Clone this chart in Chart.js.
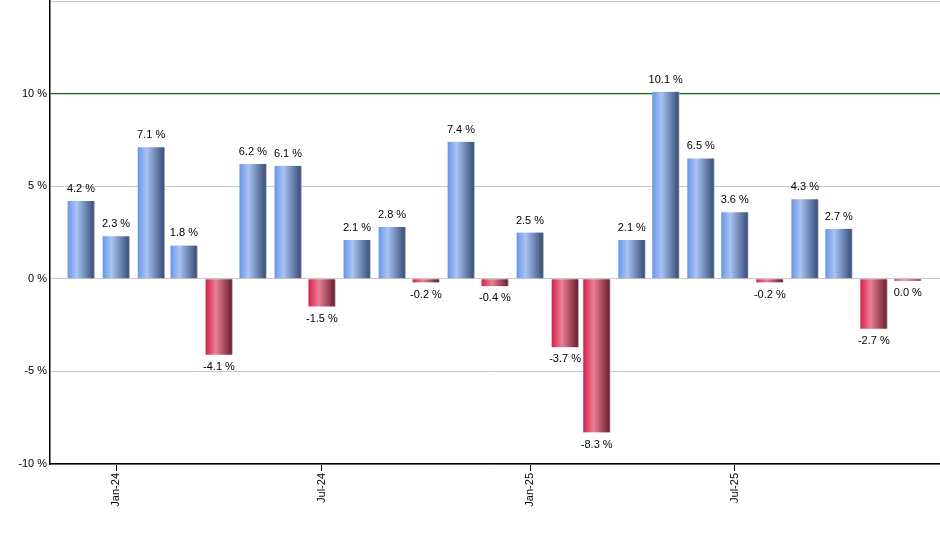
<!DOCTYPE html>
<html>

<head>
    <title>Monthly returns</title>
    <script src="https://cdn.jsdelivr.net/npm/chart.js@4.4.1/dist/chart.umd.min.js"></script>
    <style>
        body { margin: 0; background: #fff; }
        #wrap { width: 940px; height: 550px; position: relative; }
    </style>
</head>

<body>
    <div id="wrap"><canvas id="myChart"></canvas></div>
    <script>

        // months Dec-23 .. Dec-25
        var months = ['2023-12', '2024-01', '2024-02', '2024-03', '2024-04', '2024-05', '2024-06',
            '2024-07', '2024-08', '2024-09', '2024-10', '2024-11', '2024-12', '2025-01', '2025-02',
            '2025-03', '2025-04', '2025-05', '2025-06', '2025-07', '2025-08', '2025-09', '2025-10',
            '2025-11', '2025-12'];
        var returns = [4.2, 2.3, 7.1, 1.8, -4.1, 6.2, 6.1, -1.5, 2.1, 2.8, -0.2, 7.4, -0.4, 2.5, -3.7,
            -8.3, 2.1, 10.1, 6.5, 3.6, -0.2, 4.3, 2.7, -2.7, -0.04];
        var tickMonths = ['2024-01', '2024-07', '2025-01', '2025-07'];
        var tickLabels = ['Jan-24', 'Jul-24', 'Jan-25', 'Jul-25'];
        var yTicks = [-10, -5, 0, 5, 10, 15];

        function dayNum(m) {
            var p = m.split('-');
            return Date.UTC(+p[0], +p[1] - 1, 1) / 86400000;
        }

        var points = [];
        for (var i = 0; i < months.length; i++) {
            points.push({ x: dayNum(months[i]), y: returns[i] });
        }
        var tickDays = tickMonths.map(dayNum);

        function barFill(context) {
            var chart = context.chart;
            var v = context.raw ? context.raw.y : 0;
            if (!chart.chartArea || !chart.scales.x) return v < 0 ? '#c8405e' : '#7c9fe0';
            var cx = chart.scales.x.getPixelForValue(context.raw.x);
            var g = chart.ctx.createLinearGradient(cx - 13, 0, cx + 13, 0);
            if (v < 0) {
                g.addColorStop(0, '#d8244d');
                g.addColorStop(0.38, '#ea8096');
                g.addColorStop(1, '#6a1d2e');
            } else {
                g.addColorStop(0, '#6b98ea');
                g.addColorStop(0.33, '#aac4f4');
                g.addColorStop(1, '#384d78');
            }
            return g;
        }

        var valueLabels = {
            id: 'valueLabels',
            afterDatasetsDraw: function (chart) {
                var ctx = chart.ctx;
                var meta = chart.getDatasetMeta(0);
                ctx.save();
                ctx.font = '11px "Liberation Sans", Arial, sans-serif';
                ctx.fillStyle = '#000';
                ctx.textAlign = 'center';
                ctx.textBaseline = 'middle';
                meta.data.forEach(function (bar, i) {
                    var v = returns[i];
                    var txt = (Math.abs(v) < 0.05 ? '0.0' : v.toFixed(1)) + ' %';
                    var y = v >= 0 ? bar.y - 12 : bar.y + 12;
                    ctx.fillText(txt, bar.x, y);
                });
                ctx.restore();
            }
        };

        var ctx = document.getElementById('myChart').getContext('2d');
        var chart = new Chart(ctx, {
            type: 'bar',
            data: {
                datasets: [{
                    data: points,
                    backgroundColor: barFill,
                    borderColor: '#9a9a9a',
                    borderWidth: { right: 1, top: 0, bottom: 0, left: 0 },
                    borderSkipped: false,
                    barThickness: 27,
                    minBarLength: 2
                }]
            },
            plugins: [valueLabels],
            options: {
                responsive: true,
                maintainAspectRatio: false,
                animation: false,
                layout: { padding: { top: 1, right: 0, left: 0, bottom: 0 } },
                plugins: {
                    legend: { display: false },
                    tooltip: { enabled: false }
                },
                scales: {
                    x: {
                        type: 'linear',
                        min: dayNum('2023-12') - 27.4,
                        max: dayNum('2025-12') + 28.5,
                        offset: false,
                        afterBuildTicks: function (axis) {
                            axis.ticks = tickDays.map(function (d) { return { value: d }; });
                        },
                        afterFit: function (axis) {
                            axis.height = 86;
                            axis.paddingLeft = 0;
                            axis.paddingRight = 0;
                        },
                        ticks: {
                            autoSkip: false,
                            minRotation: 90,
                            maxRotation: 90,
                            padding: 2,
                            color: '#000',
                            font: { family: '"Liberation Sans", Arial, sans-serif', size: 11 },
                            callback: function (value) {
                                var k = tickDays.indexOf(value);
                                return k >= 0 ? tickLabels[k] : '';
                            }
                        },
                        grid: {
                            offset: false,
                            drawOnChartArea: false,
                            drawTicks: true,
                            tickLength: 7,
                            color: '#000'
                        },
                        border: { color: '#000', width: 1.5 }
                    },
                    y: {
                        min: -10,
                        max: 15,
                        afterBuildTicks: function (axis) {
                            axis.ticks = yTicks.map(function (v) { return { value: v }; });
                        },
                        afterFit: function (axis) {
                            axis.width = 50;
                            axis.paddingTop = 0;
                            axis.paddingBottom = 0;
                        },
                        ticks: {
                            padding: 3,
                            color: '#000',
                            font: { family: '"Liberation Sans", Arial, sans-serif', size: 11 },
                            callback: function (value) {
                                return value === 15 ? '' : value + ' %';
                            }
                        },
                        grid: {
                            drawTicks: false,
                            color: function (c) {
                                return c.tick && c.tick.value === 10 ? '#106a10' : '#c8c8c8';
                            },
                            lineWidth: function (c) {
                                return c.tick && c.tick.value === 10 ? 1.2 : 1;
                            }
                        },
                        border: { color: '#000', width: 1.5 }
                    }
                }
            }
        });
    </script>

</body>

</html>
